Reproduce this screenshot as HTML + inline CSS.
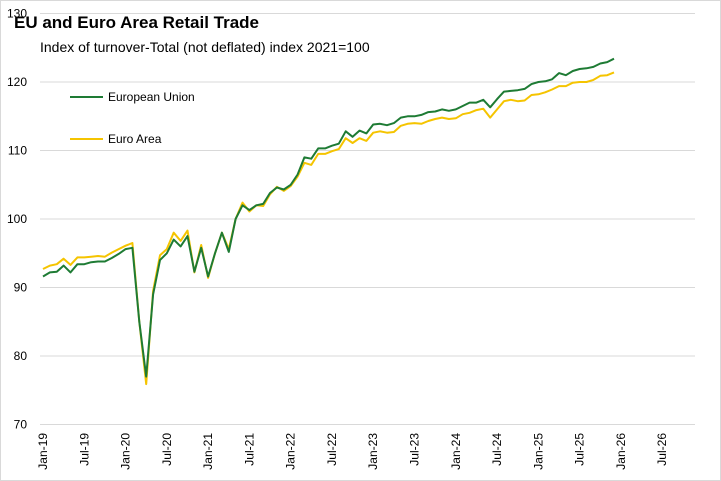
<!DOCTYPE html>
<html><head><meta charset="utf-8"><style>
body{margin:0;background:#fff;}
svg{display:block;font-family:"Liberation Sans",sans-serif;}
</style></head><body>
<svg id="c" width="721" height="481" viewBox="0 0 721 481" xmlns="http://www.w3.org/2000/svg">
<rect x="0.5" y="0.5" width="720" height="480" fill="#fff" stroke="#d9d9d9"/>
<g id="grid"></g>
<text x="14" y="28" font-size="17" font-weight="bold" fill="#000">EU and Euro Area Retail Trade</text>
<text x="40" y="52" font-size="14" fill="#000">Index of turnover-Total (not deflated) index 2021=100</text>
<line x1="70" y1="97" x2="103" y2="97" stroke="#1e7b34" stroke-width="2"/>
<text x="108" y="101" font-size="12" fill="#000">European Union</text>
<line x1="70" y1="139" x2="103" y2="139" stroke="#f5c400" stroke-width="2"/>
<text x="108" y="143" font-size="12" fill="#000">Euro Area</text>
<polyline id="ea" fill="none" stroke="#f5c400" stroke-width="2" stroke-linejoin="round"/>
<polyline id="eu" fill="none" stroke="#1e7b34" stroke-width="2" stroke-linejoin="round"/>
</svg>
<script>
var eu=[91.6,92.2,92.3,93.2,92.2,93.4,93.4,93.7,93.8,93.8,94.3,94.9,95.6,95.8,85,77,89,94,95,97,96,97.5,92.3,95.8,91.6,95,98,95.2,100,102,101.3,102,102.2,103.8,104.6,104.3,105,106.5,109,108.8,110.3,110.3,110.7,111,112.8,112,112.9,112.5,113.8,113.9,113.7,114,114.8,115,115,115.2,115.6,115.7,116,115.8,116,116.5,117,117,117.4,116.3,117.5,118.6,118.7,118.8,119,119.7,120,120.1,120.4,121.3,121,121.6,121.9,122,122.2,122.7,122.9,123.4];
var ea=[92.7,93.2,93.4,94.2,93.3,94.4,94.4,94.5,94.6,94.5,95.1,95.6,96.1,96.5,85,75.9,89.5,94.7,95.6,98,96.8,98.3,92.2,96.2,91.4,95,98,95.6,100,102.4,101.1,102,101.9,103.6,104.7,104.1,104.8,106.2,108.2,107.9,109.5,109.5,109.9,110.2,111.8,111.1,111.8,111.4,112.6,112.8,112.6,112.7,113.6,113.9,114,113.9,114.3,114.6,114.8,114.6,114.7,115.3,115.5,115.9,116.1,114.8,116,117.2,117.4,117.2,117.3,118.1,118.2,118.5,118.9,119.4,119.4,119.9,120,120,120.3,120.9,121,121.4];
function X(i){return 43+i*6.88;}
function Y(v){return 424.5-(v-70)*6.85;}
function pts(a){return a.map(function(v,i){return X(i).toFixed(1)+","+Y(v).toFixed(1)}).join(" ");}
document.getElementById("eu").setAttribute("points",pts(eu));
document.getElementById("ea").setAttribute("points",pts(ea));
var g=document.getElementById("grid"),h="";
for(var v=70;v<=130;v+=10){var y=Y(v);h+='<line x1="40" x2="695" y1="'+y+'" y2="'+y+'" stroke="#d9d9d9" stroke-width="1"/>';
h+='<text x="27" y="'+(y+4)+'" font-size="12" text-anchor="end" fill="#000">'+v+'</text>';}
var L=["Jan-19","Jul-19","Jan-20","Jul-20","Jan-21","Jul-21","Jan-22","Jul-22","Jan-23","Jul-23","Jan-24","Jul-24","Jan-25","Jul-25","Jan-26","Jul-26"];
for(var i=0;i<L.length;i++){var x=X(i*6)+4;h+='<text transform="translate('+x+',433) rotate(-90)" font-size="12" text-anchor="end" fill="#000">'+L[i]+'</text>';}
g.innerHTML=h;
</script>
</body></html>
